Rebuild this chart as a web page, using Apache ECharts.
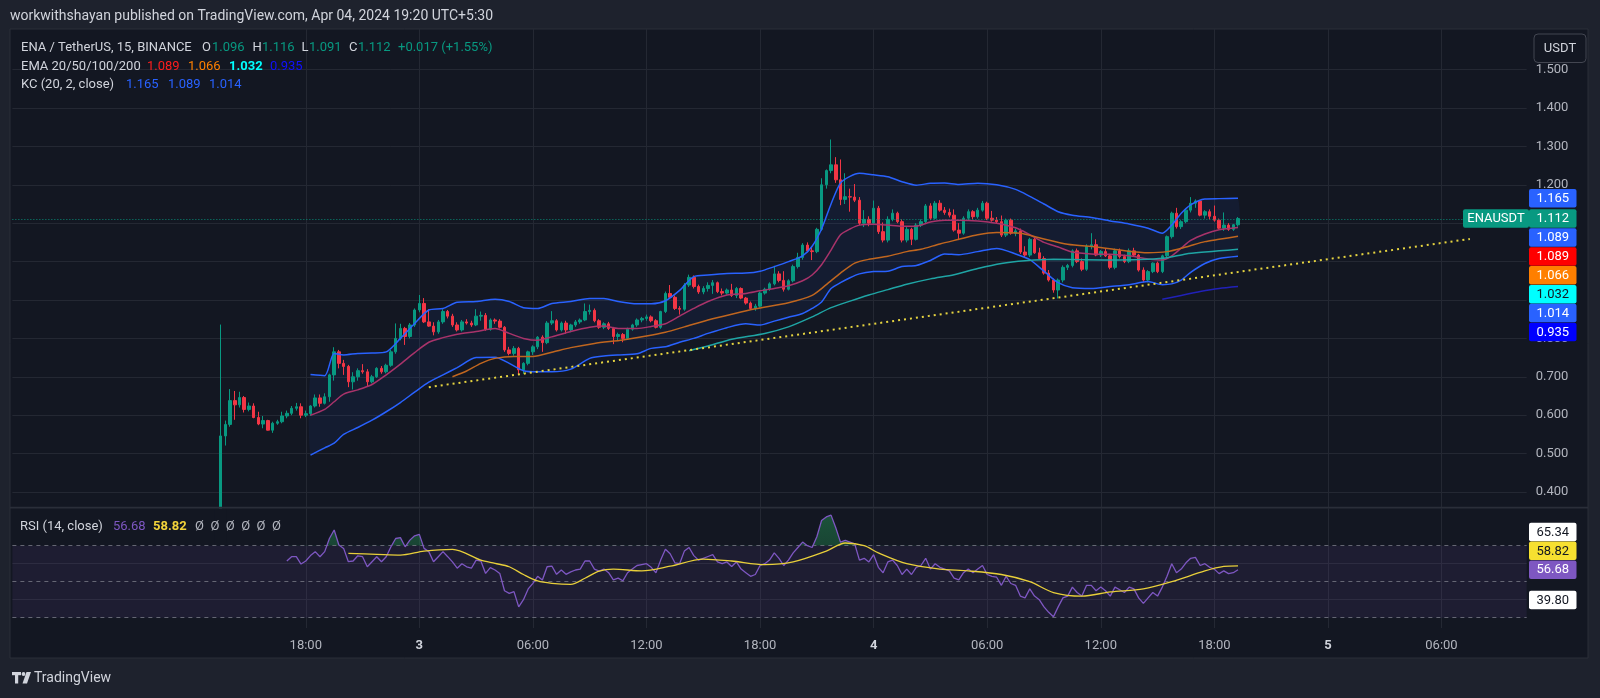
<!DOCTYPE html>
<html>
<head>
<meta charset="utf-8">
<title>ENA / TetherUS 15 BINANCE</title>
<script src="https://cdn.jsdelivr.net/npm/echarts@6.0.0/dist/echarts.min.js"></script>
<style>
html,body{margin:0;padding:0;background:#1e222d;overflow:hidden}
#chart{width:1600px;height:698px}
</style>
</head>
<body>
<div id="chart"></div>
<script>
// ---------------- DATA ----------------
const candleStart = '04-02 13:30';
const opens = [
0.300,0.546,0.576,0.638,0.627,0.646,0.615,0.624,0.594,0.577,
0.586,0.561,0.579,0.583,0.598,0.605,0.618,0.622,0.600,0.604,
0.624,0.645,0.631,0.648,0.705,0.765,0.735,0.727,0.687,0.700,
0.716,0.713,0.687,0.700,0.722,0.713,0.730,0.765,0.800,0.826,
0.805,0.835,0.874,0.891,0.843,0.832,0.817,0.843,0.870,0.858,
0.835,0.822,0.843,0.840,0.835,0.858,0.860,0.824,0.848,0.845,
0.829,0.770,0.761,0.774,0.718,0.735,0.765,0.778,0.803,0.789,
0.840,0.846,0.822,0.840,0.822,0.835,0.843,0.848,0.870,0.873,
0.846,0.829,0.838,0.826,0.805,0.810,0.800,0.824,0.835,0.848,
0.852,0.856,0.846,0.829,0.870,0.917,0.907,0.878,0.876,0.939,
0.959,0.935,0.921,0.930,0.938,0.945,0.922,0.918,0.926,0.912,
0.930,0.905,0.892,0.878,0.884,0.918,0.928,0.942,0.968,0.951,
0.928,0.950,0.987,1.011,1.043,1.028,1.026,1.084,1.200,1.237,
1.252,1.213,1.162,1.169,1.168,1.160,1.100,1.110,1.100,1.139,
1.078,1.056,1.110,1.126,1.104,1.056,1.084,1.058,1.095,1.104,
1.145,1.113,1.152,1.134,1.128,1.121,1.082,1.074,1.113,1.130,
1.117,1.134,1.152,1.113,1.108,1.104,1.069,1.108,1.074,1.080,
1.025,1.017,1.058,1.023,1.008,0.970,0.952,0.926,0.952,0.985,
0.990,1.028,1.000,0.980,1.040,1.044,1.017,1.026,1.015,0.985,
1.028,1.013,1.000,1.028,1.017,0.978,0.952,0.974,0.996,0.974,
1.015,1.065,1.126,1.091,1.104,1.134,1.152,1.158,1.121,1.130,
1.118,1.108,1.087,1.095,1.084,1.096];
const highs = [
0.836,0.586,0.668,0.663,0.661,0.650,0.633,0.631,0.609,0.598,
0.588,0.583,0.588,0.609,0.612,0.624,0.632,0.631,0.612,0.626,
0.654,0.654,0.657,0.708,0.777,0.770,0.744,0.731,0.712,0.722,
0.733,0.720,0.705,0.725,0.728,0.734,0.770,0.839,0.838,0.830,
0.840,0.878,0.913,0.905,0.876,0.842,0.848,0.876,0.874,0.864,
0.842,0.848,0.850,0.846,0.876,0.870,0.866,0.852,0.852,0.850,
0.832,0.778,0.780,0.778,0.738,0.768,0.782,0.806,0.808,0.845,
0.871,0.850,0.844,0.846,0.838,0.848,0.852,0.891,0.888,0.878,
0.850,0.842,0.843,0.830,0.815,0.814,0.828,0.838,0.852,0.856,
0.862,0.860,0.850,0.872,0.922,0.939,0.912,0.884,0.944,0.966,
0.964,0.940,0.936,0.946,0.952,0.948,0.930,0.930,0.942,0.934,
0.933,0.908,0.896,0.890,0.922,0.932,0.946,0.989,0.975,0.975,
0.954,0.992,1.023,1.048,1.050,1.038,1.088,1.217,1.240,1.318,
1.272,1.266,1.230,1.190,1.202,1.168,1.134,1.118,1.159,1.145,
1.102,1.118,1.136,1.130,1.110,1.090,1.088,1.100,1.110,1.150,
1.152,1.158,1.160,1.142,1.138,1.136,1.100,1.118,1.136,1.134,
1.140,1.158,1.156,1.132,1.116,1.120,1.112,1.112,1.086,1.086,
1.040,1.062,1.064,1.036,1.014,0.978,0.956,0.956,0.990,0.994,
1.032,1.034,1.008,1.045,1.074,1.058,1.030,1.034,1.020,1.034,
1.034,1.018,1.034,1.036,1.020,0.985,0.978,0.998,1.000,1.018,
1.068,1.130,1.140,1.108,1.138,1.168,1.162,1.160,1.134,1.136,
1.146,1.112,1.128,1.100,1.098,1.116];
const lows = [
0.280,0.521,0.570,0.588,0.620,0.607,0.610,0.592,0.574,0.566,
0.560,0.554,0.575,0.579,0.592,0.600,0.612,0.592,0.595,0.598,
0.620,0.622,0.628,0.635,0.690,0.722,0.705,0.673,0.667,0.690,
0.708,0.676,0.683,0.697,0.708,0.709,0.726,0.760,0.795,0.783,
0.800,0.830,0.868,0.840,0.830,0.808,0.812,0.838,0.852,0.830,
0.818,0.818,0.836,0.830,0.832,0.846,0.820,0.820,0.838,0.826,
0.765,0.756,0.755,0.705,0.708,0.730,0.757,0.772,0.765,0.785,
0.835,0.818,0.818,0.812,0.816,0.830,0.838,0.845,0.862,0.842,
0.825,0.824,0.822,0.785,0.795,0.790,0.796,0.820,0.830,0.842,
0.846,0.842,0.826,0.825,0.866,0.903,0.874,0.862,0.872,0.934,
0.930,0.916,0.915,0.922,0.916,0.918,0.912,0.914,0.908,0.905,
0.902,0.888,0.874,0.872,0.880,0.914,0.924,0.938,0.946,0.922,
0.925,0.946,0.982,1.005,1.024,1.004,1.022,1.080,1.190,1.230,
1.205,1.147,1.150,1.130,1.155,1.095,1.090,1.092,1.096,1.072,
1.050,1.050,1.105,1.100,1.050,1.050,1.043,1.055,1.090,1.100,
1.108,1.110,1.130,1.122,1.115,1.078,1.056,1.070,1.108,1.110,
1.112,1.130,1.108,1.104,1.098,1.064,1.064,1.070,1.066,1.020,
1.012,1.012,1.020,1.005,0.966,0.948,0.919,0.904,0.946,0.978,
0.985,0.996,0.975,0.976,1.032,1.014,1.012,1.012,0.980,0.980,
1.008,0.996,0.996,1.012,0.974,0.946,0.946,0.970,0.970,0.970,
1.010,1.060,1.086,1.085,1.100,1.128,1.140,1.118,1.112,1.110,
1.104,1.084,1.080,1.080,1.080,1.091];
const closes = [
0.546,0.576,0.638,0.627,0.646,0.615,0.624,0.594,0.577,0.586,
0.561,0.579,0.583,0.598,0.605,0.618,0.622,0.600,0.604,0.624,
0.645,0.631,0.648,0.705,0.765,0.735,0.727,0.687,0.700,0.716,
0.713,0.687,0.700,0.722,0.713,0.730,0.765,0.800,0.826,0.805,
0.835,0.874,0.891,0.843,0.832,0.817,0.843,0.870,0.858,0.835,
0.822,0.843,0.840,0.835,0.858,0.860,0.824,0.848,0.845,0.829,
0.770,0.761,0.774,0.718,0.735,0.765,0.778,0.803,0.789,0.840,
0.846,0.822,0.840,0.822,0.835,0.843,0.848,0.870,0.873,0.846,
0.829,0.838,0.826,0.805,0.810,0.800,0.824,0.835,0.848,0.852,
0.856,0.846,0.829,0.870,0.917,0.907,0.878,0.876,0.939,0.959,
0.935,0.921,0.930,0.938,0.945,0.922,0.918,0.926,0.912,0.930,
0.905,0.892,0.878,0.884,0.918,0.928,0.942,0.968,0.951,0.928,
0.950,0.987,1.011,1.043,1.028,1.026,1.084,1.200,1.237,1.252,
1.213,1.162,1.169,1.168,1.160,1.100,1.110,1.100,1.139,1.078,
1.056,1.110,1.126,1.104,1.056,1.084,1.058,1.095,1.104,1.145,
1.113,1.152,1.134,1.128,1.121,1.082,1.074,1.113,1.130,1.117,
1.134,1.152,1.113,1.108,1.104,1.069,1.108,1.074,1.080,1.025,
1.017,1.058,1.023,1.008,0.970,0.952,0.926,0.952,0.985,0.990,
1.028,1.000,0.980,1.040,1.044,1.017,1.026,1.015,0.985,1.028,
1.013,1.000,1.028,1.017,0.978,0.952,0.974,0.996,0.974,1.015,
1.065,1.126,1.091,1.104,1.134,1.152,1.158,1.121,1.130,1.118,
1.108,1.087,1.095,1.084,1.096,1.112];

// Keltner channel (20, 2, close) at these candle numbers
const kcIdx = [19,22,24,26,29,32,35,38,41,44,47,50,54,58,61,64,67,70,74,78,81,84,88,91,94,97,100,103,107,111,114,117,120,123,125,127,129,131,133,135,138,141,144,147,150,153,156,160,164,168,171,174,177,180,184,188,192,196,199,201,203,205,208,211,215];
const kcUpper = [0.706,0.703,0.761,0.757,0.761,0.762,0.765,0.800,0.839,0.874,0.878,0.894,0.896,0.902,0.896,0.880,0.878,0.891,0.896,0.904,0.904,0.896,0.890,0.890,0.898,0.925,0.961,0.965,0.969,0.970,0.975,0.987,1.000,1.015,1.040,1.085,1.150,1.205,1.222,1.230,1.226,1.221,1.208,1.199,1.204,1.205,1.201,1.204,1.200,1.188,1.170,1.150,1.130,1.121,1.115,1.106,1.098,1.087,1.074,1.095,1.126,1.148,1.163,1.164,1.165];
const kcMid = [0.600,0.615,0.635,0.655,0.666,0.680,0.705,0.733,0.763,0.790,0.802,0.811,0.818,0.826,0.813,0.800,0.795,0.804,0.818,0.829,0.832,0.826,0.826,0.831,0.838,0.858,0.878,0.896,0.913,0.917,0.924,0.930,0.937,0.950,0.965,0.992,1.030,1.070,1.085,1.095,1.097,1.095,1.092,1.092,1.103,1.108,1.108,1.106,1.100,1.088,1.070,1.050,1.038,1.025,1.020,1.019,1.015,1.007,1.004,1.015,1.035,1.055,1.072,1.083,1.089];
const kcLower = [0.496,0.515,0.527,0.550,0.568,0.587,0.609,0.633,0.660,0.686,0.705,0.724,0.750,0.751,0.735,0.716,0.713,0.713,0.720,0.748,0.754,0.757,0.760,0.774,0.778,0.790,0.800,0.813,0.828,0.838,0.835,0.845,0.855,0.865,0.878,0.895,0.930,0.945,0.958,0.968,0.974,0.975,0.987,0.990,1.003,1.020,1.018,1.026,1.034,1.020,1.005,0.975,0.945,0.932,0.930,0.935,0.940,0.948,0.940,0.942,0.952,0.972,0.995,1.008,1.014];

// EMA 50 / 100 / 200
const ema50Idx = [49,52,55,58,62,66,70,74,79,85,90,94,98,103,108,113,120,125,128,131,134,137,141,145,148,152,156,160,164,169,173,179,185,190,196,200,204,208,211,215];
const ema50 = [0.700,0.715,0.735,0.748,0.753,0.753,0.764,0.776,0.787,0.796,0.806,0.816,0.830,0.848,0.863,0.877,0.893,0.912,0.940,0.970,0.996,1.006,1.014,1.026,1.032,1.046,1.058,1.070,1.076,1.074,1.062,1.045,1.038,1.030,1.023,1.026,1.038,1.052,1.058,1.066];
const ema100Idx = [99,103,108,115,120,125,129,133,137,141,145,150,155,160,165,170,176,183,190,196,200,204,208,211,215];
const ema100 = [0.768,0.780,0.798,0.813,0.830,0.856,0.880,0.897,0.913,0.927,0.941,0.955,0.966,0.982,0.995,1.002,1.006,1.005,1.004,1.006,1.010,1.020,1.025,1.028,1.032];
const ema200Idx = [199,203,207,211,215];
const ema200 = [0.902,0.912,0.922,0.930,0.935];

// Trend line drawing (time, price)
const trendLine = [['04-03 00:30', 0.673], ['04-05 07:30', 1.059]];

// RSI (14, close) from candle 14 onward, and its moving average
const rsiFirst = 14;
const rsiValues = [
61.5,63.9,63.9,59.8,61.5,64.5,66.7,63.9,66.7,74,
78.7,70.4,68.5,61.1,61.5,64.4,63.9,58.3,61.1,63.9,
61.1,63.9,69.4,74,74.5,69.4,73.1,75.5,76.3,68.5,
66.7,61.1,63.9,66.7,63.9,61,57.5,60,58.3,57.5,
62,61.5,54.6,57.8,56.5,54.6,45,43.5,44.5,36,
40,46,49.1,53,50.9,58.3,58.7,54.1,56.5,54.1,
55.5,56.5,57,61.5,61.5,57,55.9,57,55,51,
52,50.5,55,57,59,59.5,60,58,55,62,
68,65.5,60.5,60,67,69,64.5,62,63,64,
65,61,60,61,58.5,61,57,55,53,54,
59,60,62,66,63,59,62,66,69,72,
70,69,75,84,86,87,80,72,73,72,
71,62,63,61,65,58,55,61,62,59,
54,57,54,58,59,63,57,60,58,57,
56,52,51,55,57,55,57,59,54,53,
52.5,48,53,49,48,42,41,46,42,40,
36,33,30.5,36,41,42,47,44,42,48,
48,45,47,45,42,47,45.5,44,47,46,
41,38,41,44,42,47,53,60,55,57,
60.5,63,63.5,59,60,58,57,54.5,56,54.5,
55,56.68];
const rsiMaIdx = [27,33,38,43,49,55,58,61,64,67,70,74,77,80,83,89,95,102,108,115,121,128,132,136,139,145,152,158,165,171,176,182,188,195,201,208,212,215];
const rsiMa = [65.7,65.2,64.8,67,68,62,60.2,58.3,54,50.4,49.1,48.5,51.9,55.9,57,56,58.6,62.6,61.5,59.5,61,67,71.5,70,66,60,57,56,54,50,44,42,44.3,46,50,56,58.5,58.82];
const rsiLevels = [70, 50, 30];
const rsiScaleTags = [65.34, 39.80];

// Axis tick labels
const priceTicks = [0.4,0.5,0.6,0.7,0.8,0.9,1.0,1.1,1.2,1.3,1.4,1.5];
const timeTicks = ['04-02 18:00','04-03 00:00','04-03 06:00','04-03 12:00','04-03 18:00','04-04 00:00','04-04 06:00','04-04 12:00','04-04 18:00','04-05 00:00','04-05 06:00'];
const timeTickLabels = ['18:00','3','06:00','12:00','18:00','4','06:00','12:00','18:00','5','06:00'];
const dayTicks = ['3','4','5'];

// Texts
const headerText = 'workwithshayan published on TradingView.com, Apr 04, 2024 19:20 UTC+5:30';
const symbolText = 'ENA / TetherUS, 15, BINANCE';
const changeText = '+0.017 (+1.55%)';
const emaTitle = 'EMA 20/50/100/200';
const kcTitle = 'KC (20, 2, close)';
const rsiTitle = 'RSI (14, close)';
const tickerName = 'ENAUSDT';
const currency = 'USDT';

// ---------------- CHART ----------------
const FONT = 'Roboto, "Noto Sans", "DejaVu Sans", sans-serif';
const GRIDC = '#242833';
const PANE = '#131722';
const UP = '#089981', DOWN = '#f23645';
const C_KC = '#2962ff', C_E20 = '#a8336a', C_E50 = '#c0661f', C_E100 = '#1fa5a5', C_E200 = '#2121b8';

const pad = n => (n < 10 ? '0' : '') + n;
const categories = [];
(function () {
  const t0 = Date.UTC(2024, 3, 2, 2, 30);
  for (let k = 0; k < 321; k++) {
    const d = new Date(t0 + k * 900000);
    categories.push(pad(d.getUTCMonth() + 1) + '-' + pad(d.getUTCDate()) + ' ' + pad(d.getUTCHours()) + ':' + pad(d.getUTCMinutes()));
  }
})();
const s0 = categories.indexOf(candleStart);
const tickMap = {};
timeTicks.forEach((t, k) => { tickMap[categories.indexOf(t)] = timeTickLabels[k]; });
const isTick = (idx) => tickMap[idx] !== undefined;

const candleData = categories.map((_, k) => {
  const i = k - s0;
  return (i >= 0 && i < opens.length) ? [opens[i], closes[i], lows[i], highs[i]] : '-';
});
const pts = (idx, vals) => idx.map((i, k) => [i + s0, vals[k]]);
const rsiData = categories.map((_, k) => {
  const j = k - s0 - rsiFirst;
  return (j >= 0 && j < rsiValues.length) ? rsiValues[j] : null;
});

const chart = echarts.init(document.getElementById('chart'));

const lineS = (name, data, color, width, z) => ({
  name, type: 'line', xAxisIndex: 0, yAxisIndex: 0, data, showSymbol: false, symbol: 'none',
  smooth: 0.25, silent: true, clip: true, z: z || 6, lineStyle: { color, width }
});

const option = {
  animation: false,
  backgroundColor: '#1e222d',
  textStyle: { fontFamily: FONT },
  grid: [
    { left: 12.37, right: 73.33, top: 29, height: 478.5 },
    { left: 12.37, right: 73.33, top: 508.5, height: 119.5 },
    { left: 12.37, right: 73.33, top: 508.5, height: 37.2 }
  ],
  xAxis: [
    { type: 'category', gridIndex: 0, data: categories, boundaryGap: false,
      axisLine: { show: false }, axisTick: { show: false }, axisLabel: { show: false },
      splitLine: { show: true, interval: isTick, lineStyle: { color: GRIDC, width: 1 } } },
    { type: 'category', gridIndex: 1, data: categories, boundaryGap: false, position: 'bottom',
      axisLine: { show: false }, axisTick: { show: false },
      axisLabel: { show: true, interval: isTick, margin: 11, color: '#b2b5be', fontSize: 13, fontFamily: FONT,
        formatter: (v) => { const t = tickMap[categories.indexOf(v)]; if (t === undefined) return ''; return dayTicks.includes(t) ? '{d|' + t + '}' : t; },
        rich: { d: { fontWeight: 'bold', color: '#d1d4dc', fontSize: 13, fontFamily: FONT } } },
      splitLine: { show: true, interval: isTick, lineStyle: { color: GRIDC, width: 1 } } },
    { type: 'category', gridIndex: 2, data: categories, boundaryGap: false, show: false }
  ],
  yAxis: [
    { type: 'value', gridIndex: 0, position: 'right', min: 0.35964, max: 1.60573,
      axisLine: { show: false }, axisTick: { show: false, customValues: priceTicks },
      axisLabel: { customValues: priceTicks, formatter: v => v.toFixed(3), color: '#b2b5be', fontSize: 13, margin: 9, fontFamily: FONT },
      splitLine: { show: true, lineStyle: { color: GRIDC, width: 1 } } },
    { type: 'value', gridIndex: 1, position: 'right', min: 24.28, max: 90.67,
      axisLine: { show: false }, axisTick: { show: false, customValues: [40, 60] },
      axisLabel: { show: false, customValues: [40, 60] },
      splitLine: { show: true, lineStyle: { color: GRIDC, width: 1 } } },
    { type: 'value', gridIndex: 2, min: 70, max: 90.67, show: false }
  ],
  series: [
    { name: 'KC band', type: 'custom', xAxisIndex: 0, yAxisIndex: 0, silent: true, z: 1, clip: true,
      data: [[s0, 1]],
      renderItem: (params, api) => {
        if (params.dataIndex !== 0) return null;
        const p = [];
        kcIdx.forEach((i, k) => p.push(api.coord([i + s0, kcUpper[k]])));
        for (let k = kcIdx.length - 1; k >= 0; k--) p.push(api.coord([kcIdx[k] + s0, kcLower[k]]));
        return { type: 'polygon', shape: { points: p, smooth: 0.2 }, style: { fill: 'rgba(41,98,255,0.07)' } };
      } },
    { name: 'ENAUSDT', type: 'candlestick', xAxisIndex: 0, yAxisIndex: 0, data: candleData, barWidth: 3,
      z: 4, silent: true, clip: true,
      itemStyle: { color: UP, color0: DOWN, borderColor: UP, borderColor0: DOWN, borderWidth: 1 },
      markLine: { silent: true, symbol: ['none', 'none'], label: { show: false },
        lineStyle: { color: UP, type: [1, 2], width: 1, opacity: 0.9 },
        data: [{ yAxis: closes[closes.length - 1] }] } },
    lineS('KC upper', pts(kcIdx, kcUpper), C_KC, 1.5),
    lineS('KC lower', pts(kcIdx, kcLower), C_KC, 1.5),
    lineS('EMA 20 / KC basis', pts(kcIdx, kcMid), C_E20, 1.5),
    lineS('EMA 50', pts(ema50Idx, ema50), C_E50, 1.5),
    lineS('EMA 100', pts(ema100Idx, ema100), C_E100, 1.5),
    lineS('EMA 200', pts(ema200Idx, ema200), C_E200, 1.5),
    { name: 'Trend', type: 'line', xAxisIndex: 0, yAxisIndex: 0, data: trendLine, showSymbol: false, symbol: 'none',
      silent: true, z: 7, lineStyle: { color: '#e6d440', width: 2, type: [2, 4] } },
    { name: 'RSI', type: 'line', xAxisIndex: 1, yAxisIndex: 1, data: rsiData, showSymbol: false, symbol: 'none',
      silent: true, z: 5, clip: true, lineStyle: { color: '#7e57c2', width: 1.3 },
      markArea: { silent: true, itemStyle: { color: 'rgba(126,87,194,0.10)' }, data: [[{ yAxis: rsiLevels[2] }, { yAxis: rsiLevels[0] }]] },
      markLine: { silent: true, symbol: ['none', 'none'], label: { show: false },
        lineStyle: { color: '#787b86', type: [4, 4], width: 1, opacity: 0.8 },
        data: rsiLevels.map(v => ({ yAxis: v })) } },
    { name: 'RSI MA', type: 'line', xAxisIndex: 1, yAxisIndex: 1, data: pts(rsiMaIdx, rsiMa), showSymbol: false,
      symbol: 'none', smooth: 0.3, silent: true, z: 6, lineStyle: { color: '#e8cf3a', width: 1.3 } },
    { name: 'RSI OB fill', type: 'line', xAxisIndex: 2, yAxisIndex: 2, data: rsiData, showSymbol: false, symbol: 'none',
      silent: true, z: 4, clip: true, lineStyle: { width: 0, opacity: 0 },
      areaStyle: { origin: 'start', color: new echarts.graphic.LinearGradient(0, 0, 0, 1, [
        { offset: 0, color: 'rgba(38,166,91,0.6)' }, { offset: 1, color: 'rgba(38,166,91,0.12)' }]) } }
  ]
};
chart.setOption(option);

// ---------------- TEXT, TAGS, FRAME ----------------
const txt = (x, y, text, fill, size, weight, align) => ({
  type: 'text', x, y, z: 100, silent: true,
  style: { text, fill, font: (weight || 'normal') + ' ' + size + 'px ' + FONT, align: align || 'left', verticalAlign: 'middle',
    textAlign: align || 'left', textVerticalAlign: 'middle' }
});
const tag = (x, yc, w, text, bg, fg, weight) => [
  { type: 'rect', z: 100, silent: true, shape: { x, y: yc - 9.25, width: w, height: 18.5, r: 2 }, style: { fill: bg } },
  txt(x + w / 2, yc + 0.5, text, fg, 13, weight || 'normal', 'center')
];
const f3 = v => v.toFixed(3);
const last = a => a[a.length - 1];

const g = [];
g.push({ type: 'rect', z: -10, silent: true, shape: { x: 10, y: 29, width: 1578, height: 629 }, style: { fill: PANE, stroke: '#2a2e39', lineWidth: 1 } });
// the first (listing) candle is cut at the bottom edge of the price pane, as in the screenshot
{
  const x0 = chart.convertToPixel({ xAxisIndex: 0 }, s0);
  g.push({ type: 'rect', z: 40, silent: true, shape: { x: x0 - 6, y: 508.3, width: 12, height: 36.8 }, style: { fill: PANE } });
}
g.push({ type: 'rect', z: 50, silent: true, shape: { x: 10, y: 506.8, width: 1578, height: 1.6 }, style: { fill: '#2a2e39' } });
g.push(txt(10, 16, headerText, '#d1d4dc', 14));
// legend row 1
g.push(txt(21, 47.5, symbolText, '#d1d4dc', 13));
g.push(txt(202, 47.5, 'O', '#d1d4dc', 13)); g.push(txt(212, 47.5, f3(last(opens)), UP, 13));
g.push(txt(252.5, 47.5, 'H', '#d1d4dc', 13)); g.push(txt(262, 47.5, f3(last(highs)), UP, 13));
g.push(txt(301.5, 47.5, 'L', '#d1d4dc', 13)); g.push(txt(309, 47.5, f3(last(lows)), UP, 13));
g.push(txt(349, 47.5, 'C', '#d1d4dc', 13)); g.push(txt(358, 47.5, f3(last(closes)), UP, 13));
g.push(txt(398, 47.5, changeText, UP, 13));
// legend row 2
g.push(txt(21, 66.5, emaTitle, '#d1d4dc', 13));
g.push(txt(147, 66.5, f3(last(kcMid)), '#ff1e1e', 13));
g.push(txt(188, 66.5, f3(last(ema50)), '#ff8000', 13));
g.push(txt(229, 66.5, f3(last(ema100)), '#00ffff', 13, 'bold'));
g.push(txt(270, 66.5, f3(last(ema200)), '#1010ff', 13));
// legend row 3
g.push(txt(21, 85, kcTitle, '#d1d4dc', 13));
g.push(txt(126, 85, f3(last(kcUpper)), C_KC, 13));
g.push(txt(168, 85, f3(last(kcMid)), C_KC, 13));
g.push(txt(209, 85, f3(last(kcLower)), C_KC, 13));
// RSI legend
g.push(txt(20, 527, rsiTitle, '#d1d4dc', 13));
g.push(txt(113, 527, last(rsiValues).toFixed(2), '#7e57c2', 13));
g.push(txt(153, 527, last(rsiMa).toFixed(2), '#f2d33a', 13, 'bold'));
g.push(txt(195, 527, 'Ø  Ø  Ø  Ø  Ø  Ø', '#b2b5be', 13));
// currency button
g.push({ type: 'rect', z: 100, silent: true, shape: { x: 1534, y: 34, width: 52, height: 28.5, r: 4 }, style: { fill: PANE, stroke: '#434651', lineWidth: 1 } });
g.push(txt(1560, 48.5, currency, '#d1d4dc', 13, 'normal', 'center'));
// TradingView logo
g.push({ type: 'rect', z: 100, silent: true, shape: { x: 12, y: 672, width: 9, height: 3.2 }, style: { fill: '#d1d4dc' } });
g.push({ type: 'rect', z: 100, silent: true, shape: { x: 15, y: 672, width: 3.2, height: 11.5 }, style: { fill: '#d1d4dc' } });
g.push({ type: 'circle', z: 100, silent: true, shape: { cx: 23.5, cy: 674, r: 1.9 }, style: { fill: '#d1d4dc' } });
g.push({ type: 'polygon', z: 100, silent: true, shape: { points: [[26.5, 672], [31, 672], [27, 683.5], [22.5, 683.5]] }, style: { fill: '#d1d4dc' } });
g.push(txt(34, 678.5, 'TradingView', '#d1d4dc', 14));

// price-scale tags (stacked top-down like the screenshot)
const mainTags = [
  { v: last(kcUpper), bg: C_KC, fg: '#ffffff' },
  { v: last(closes), bg: UP, fg: '#ffffff' },
  { v: last(kcMid), bg: C_KC, fg: '#ffffff' },
  { v: last(kcMid), bg: '#ff0000', fg: '#ffffff' },
  { v: last(ema50), bg: '#ff7f00', fg: '#ffffff' },
  { v: last(ema100), bg: '#00ffff', fg: '#131722' },
  { v: last(kcLower), bg: C_KC, fg: '#ffffff' },
  { v: last(ema200), bg: '#0000ff', fg: '#ffffff' }
];
let prev = -1e9;
mainTags.forEach((t, k) => {
  let y = chart.convertToPixel({ yAxisIndex: 0 }, t.v);
  y = Math.max(y, prev + 18.9); prev = y;
  g.push(...tag(1529, y, 47.5, f3(t.v), t.bg, t.fg));
  if (k === 1) g.push(...tag(1463, y, 66, tickerName, UP, '#ffffff'));
});
// RSI tags (stacked bottom-up)
const rsiTags = [
  { v: rsiScaleTags[0], bg: '#ffffff', fg: '#131722' },
  { v: last(rsiMa), bg: '#f7e030', fg: '#131722' },
  { v: last(rsiValues), bg: '#7e57c2', fg: '#ffffff' },
  { v: rsiScaleTags[1], bg: '#ffffff', fg: '#131722' }
];
const ry = rsiTags.map(t => chart.convertToPixel({ yAxisIndex: 1 }, t.v));
for (let k = ry.length - 2; k >= 0; k--) ry[k] = Math.min(ry[k], ry[k + 1] - 18.9);
rsiTags.forEach((t, k) => g.push(...tag(1529, ry[k], 47.5, t.v.toFixed(2), t.bg, t.fg)));

chart.setOption({ graphic: { elements: g } });
</script>
</body>
</html>
